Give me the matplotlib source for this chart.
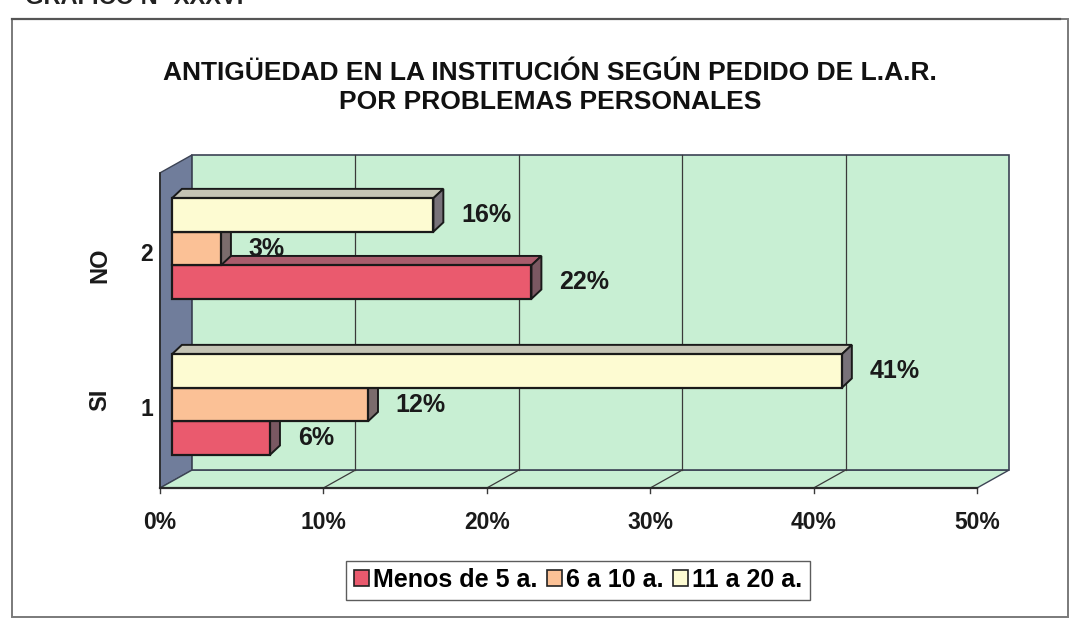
import matplotlib
matplotlib.use("Agg")
import matplotlib.pyplot as plt
from matplotlib.patches import Polygon, Rectangle

# ---- data -------------------------------------------------------------
categories = ["SI", "NO"]            # rotated group names
category_ticks = ["1", "2"]          # numeric tick labels beside the groups
series_names = ["Menos de 5 a.", "6 a 10 a.", "11 a 20 a."]
menos_5 = [6, 22]
de_6_a_10 = [12, 3]
de_11_a_20 = [41, 16]
series_values = [menos_5, de_6_a_10, de_11_a_20]
x_ticks = [0, 10, 20, 30, 40, 50]
title_lines = ["ANTIGÜEDAD EN LA INSTITUCIÓN SEGÚN PEDIDO DE L.A.R.",
               "POR PROBLEMAS PERSONALES"]
header = "GRAFICO N° XXXVI"

# ---- style ------------------------------------------------------------
face_colors = ["#ea5a6e", "#fbc196", "#fdfbd2"]
top_colors = ["#a95c6c", "#c8a58e", "#c4c3b4"]
side_colors = ["#7a5862", "#7b6c6c", "#78727a"]
wall_green = "#c8efd3"
left_wall = "#707d9b"
edge = "#1a1a1a"

plt.rcParams["font.family"] = ["Liberation Sans", "DejaVu Sans"]

W, H = 1072, 619
fig = plt.figure(figsize=(W / 100, H / 100), dpi=100)
fig.patch.set_facecolor("white")

# outer frame of the chart area
fig.add_artist(Rectangle((12 / W, 1 - 617 / H), 1056 / W, 598 / H,
                         transform=fig.transFigure, fill=False,
                         edgecolor="#7a7a7a", linewidth=1.4))
fig.add_artist(plt.Line2D([12 / W, 1060 / W], [1 - 19 / H, 1 - 19 / H],
                          transform=fig.transFigure, color="#555555", lw=1.6))
fig.text(25 / W, 1 - 4 / H, header, fontsize=17, fontweight="bold",
         va="baseline", ha="left", color="#222222")

for i, line in enumerate(title_lines):
    fig.text(550 / W, 1 - (73 + 29 * i) / H, line, ha="center", va="center",
             fontsize=19, fontweight="bold", color="#111111")

# ---- plotting area (x in %, y in category units) ----------------------
ax = fig.add_axes([135.5 / W, 1 - 503.6 / H, 898.7 / W, 366.6 / H])
ax.set_xlim(-1.5, 53.5)
ax.set_ylim(0.4, 2.75)
for s in ax.spines.values():
    s.set_visible(False)
ax.set_facecolor("none")

xmax = x_ticks[-1]
floor_y, top_y = 0.5, 2.52
DX, DY = 1.96, 0.115        # depth of the chart box
BX, BY = 0.61, 0.06         # depth of each bar
OX, OY = 0.73, 0.035        # bar front face offset from the front plane
bar_h = 0.215

# side wall, floor and back wall
ax.add_patch(Polygon([(0, floor_y), (DX, floor_y + DY), (DX, top_y + DY), (0, top_y)],
                     closed=True, facecolor=left_wall, edgecolor="#3c4354", lw=1.0, zorder=1))
ax.add_patch(Polygon([(0, floor_y), (xmax, floor_y), (xmax + DX, floor_y + DY), (DX, floor_y + DY)],
                     closed=True, facecolor=wall_green, edgecolor="#3c4354", lw=1.0, zorder=1))
ax.add_patch(Rectangle((DX, floor_y + DY), xmax, top_y - floor_y,
                       facecolor=wall_green, edgecolor="#3c4354", lw=1.2, zorder=1))

# grid lines on back wall and floor, with tick marks on the front edge
for t in x_ticks:
    if 0 < t < xmax:
        ax.plot([t + DX, t + DX], [floor_y + DY, top_y + DY], color="#3a3a3a", lw=0.9, zorder=2)
        ax.plot([t, t + DX], [floor_y, floor_y + DY], color="#3a3a3a", lw=0.9, zorder=2)
    ax.plot([t, t], [floor_y, floor_y - 0.035], color="#3a3a3a", lw=1.0, zorder=2, clip_on=False)
ax.plot([0, xmax], [floor_y, floor_y], color="#2a2a2a", lw=1.6, zorder=2)
ax.plot([0, 0], [floor_y, top_y], color="#2a2a2a", lw=1.2, zorder=2)

# 3D bars: front face via barh, top and side faces from the same values
positions = [1, 2]
z = 3
for ci, c in enumerate(positions):
    for si in range(len(series_values)):
        v = series_values[si][ci]
        y0 = c + OY - 1.5 * bar_h + si * bar_h
        x0 = OX
        ax.barh(y0, v, height=bar_h, left=x0, align="edge",
                color=face_colors[si], edgecolor=edge, linewidth=1.6, zorder=z + 0.5)
        ax.add_patch(Polygon([(x0, y0 + bar_h), (x0 + v, y0 + bar_h),
                              (x0 + v + BX, y0 + bar_h + BY), (x0 + BX, y0 + bar_h + BY)],
                             closed=True, facecolor=top_colors[si], edgecolor=edge,
                             lw=1.4, zorder=z))
        ax.add_patch(Polygon([(x0 + v, y0), (x0 + v + BX, y0 + BY),
                              (x0 + v + BX, y0 + bar_h + BY), (x0 + v, y0 + bar_h)],
                             closed=True, facecolor=side_colors[si], edgecolor=edge,
                             lw=1.4, zorder=z))
        ax.text(x0 + v + 1.7, y0 + bar_h / 2, f"{v}%", ha="left", va="center",
                fontsize=18, fontweight="bold", color="#1a1a1a", zorder=10)
        z += 1

# axis labels
ax.set_xticks(x_ticks)
ax.set_xticklabels([f"{t}%" for t in x_ticks], fontsize=16.5, fontweight="bold", color="#1a1a1a")
ax.tick_params(axis="x", length=0, pad=5)
ax.set_yticks([])
for c, tick, name in zip(positions, category_ticks, categories):
    ax.text(-0.8, c, tick, ha="center", va="center", fontsize=16.5,
            fontweight="bold", color="#1a1a1a", clip_on=False)
    ax.text(-3.67, c + (0.064 if name == "SI" else -0.07), name, ha="center", va="center",
            rotation=90, fontsize=17, fontweight="bold", color="#1a1a1a", clip_on=False)

# legend
handles = [Rectangle((0, 0), 1, 1, facecolor=fc, edgecolor="#222222", lw=1.2) for fc in face_colors]
fig.legend(handles, series_names, loc="center", bbox_to_anchor=(578 / W, 1 - 580 / H),
           ncol=3, frameon=True, fancybox=False, edgecolor="#333333",
           prop={"size": 18, "weight": "bold"}, handlelength=0.6, handleheight=0.6,
           handletextpad=0.15, columnspacing=0.4, borderpad=0.3)

fig.savefig("out.png", dpi=100)
